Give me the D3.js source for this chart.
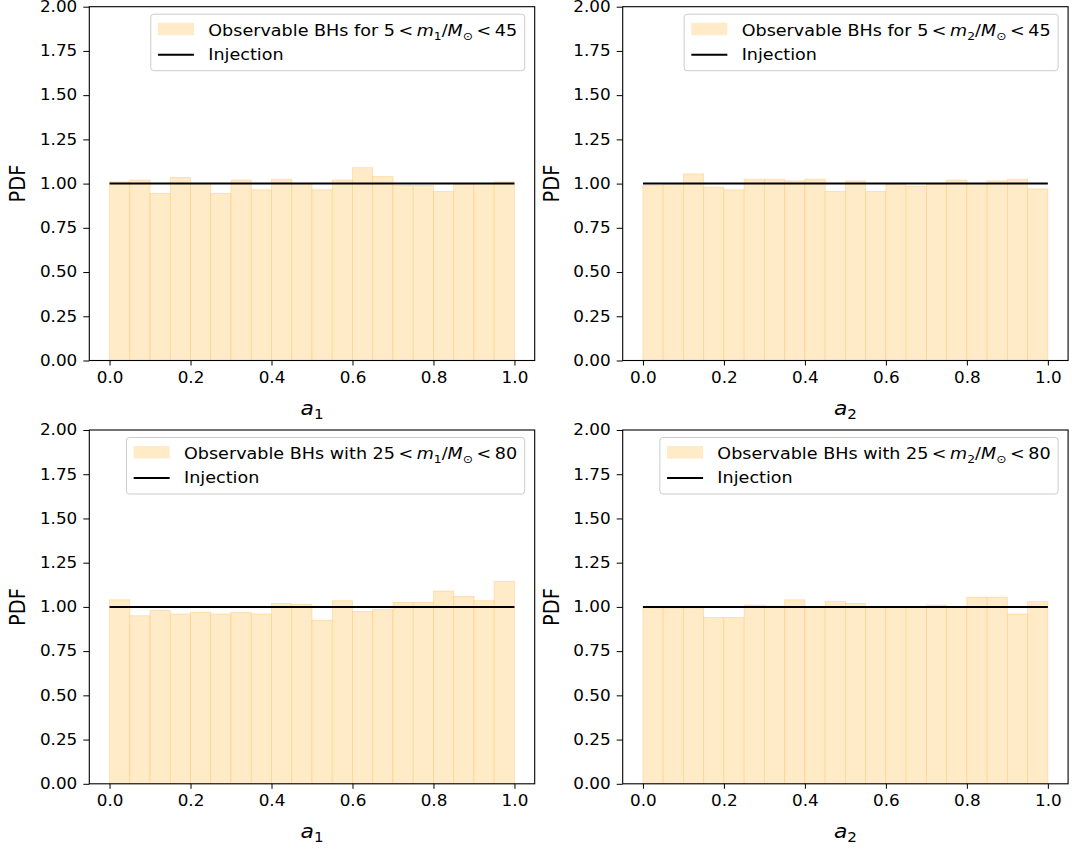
<!DOCTYPE html>
<html>
<head>
<meta charset="utf-8">
<script src="https://cdn.jsdelivr.net/npm/d3@7"></script>
<style>
  body { margin: 0; background: #fff; }
  svg { display: block; font-family: "DejaVu Sans", sans-serif; }
</style>
</head>
<body>
<svg id="chart" width="1075" height="850"></svg>
<script>
// ---- Data ----
const binEdges = [0.00,0.05,0.10,0.15,0.20,0.25,0.30,0.35,0.40,0.45,0.50,0.55,0.60,0.65,0.70,0.75,0.80,0.85,0.90,0.95,1.00];
const a1LowMass  = [1.01,1.02,0.945,1.035,1.00,0.945,1.02,0.965,1.025,1.00,0.965,1.02,1.09,1.04,0.99,0.99,0.955,0.995,1.00,1.01];
const a2LowMass  = [0.99,1.00,1.055,0.98,0.965,1.025,1.025,1.015,1.025,0.955,1.015,0.955,0.995,0.985,0.995,1.02,1.00,1.015,1.025,0.97];
const a1HighMass = [1.04,0.95,0.98,0.96,0.97,0.96,0.97,0.96,1.02,1.015,0.925,1.035,0.975,0.985,1.025,1.025,1.09,1.06,1.035,1.145];
const a2HighMass = [0.995,0.995,0.995,0.94,0.94,1.01,1.005,1.04,1.00,1.03,1.02,1.00,1.00,1.00,1.01,1.00,1.055,1.055,0.96,1.03];
const injectionX = [0, 1];
const injectionY = [1, 1];
const xTicks = [0.0,0.2,0.4,0.6,0.8,1.0];
const yTicks = [0.00,0.25,0.50,0.75,1.00,1.25,1.50,1.75,2.00];

const panels = [
  {left: 89.3,  top: 6.7, values: a1LowMass,  sub: "1", prep: "for", lo: "5",  hi: "45"},
  {left: 622.7, top: 6.7, values: a2LowMass,  sub: "2", prep: "for", lo: "5",  hi: "45"},
  {left: 89.3,  top: 430, values: a1HighMass, sub: "1", prep: "with", lo: "25", hi: "80"},
  {left: 622.7, top: 430, values: a2HighMass, sub: "2", prep: "with", lo: "25", hi: "80"}
];
const W = 445.4, H = 353.8;
const SX = 1.12;          // horizontal text stretch of the reference image
const tickFs = 15, legFs = 15.7;

const svg = d3.select("#chart");
svg.append("rect").attr("width",1075).attr("height",850).attr("fill","#fff");

panels.forEach(p => {
  const g = svg.append("g").attr("transform", `translate(${p.left},${p.top})`);
  const x = d3.scaleLinear().domain([-0.05, 1.05]).range([0, W]);
  const y = d3.scaleLinear().domain([0, 2]).range([H, 0]);

  const bins = p.values.map((v,i) => ({x0: binEdges[i], x1: binEdges[i+1], v}));
  g.selectAll("rect.bar").data(bins).enter().append("rect")
    .attr("class","bar")
    .attr("x", d => x(d.x0))
    .attr("width", d => x(d.x1) - x(d.x0))
    .attr("y", d => y(d.v))
    .attr("height", d => y(0) - y(d.v))
    .attr("fill", "#ffebc8")
    .attr("stroke", "rgba(255,190,90,0.45)")
    .attr("stroke-width", 0.8);

  const line = d3.line().x(d => x(d[0])).y(d => y(d[1]));
  g.append("path").datum(injectionX.map((xv,i)=>[xv, injectionY[i]]))
    .attr("d", line).attr("stroke","#000").attr("stroke-width",2).attr("fill","none");

  // axes
  const xAxis = d3.axisBottom(x).tickValues(xTicks).tickFormat(d3.format(".1f")).tickSizeOuter(0).tickSize(5).tickPadding(6.5);
  const yAxis = d3.axisLeft(y).tickValues(yTicks).tickFormat(d3.format(".2f")).tickSizeOuter(0).tickSize(6).tickPadding(6);
  const gx = g.append("g").attr("transform",`translate(0,${H})`).call(xAxis);
  const gy = g.append("g").call(yAxis);
  [gx, gy].forEach(a => {
    a.select(".domain").remove();
    a.selectAll("text").attr("font-size", tickFs).attr("fill","#000").attr("font-family","DejaVu Sans");
    a.selectAll("line").attr("stroke","#000").attr("stroke-width",1);
  });
  gx.selectAll("text").attr("transform", `scale(${SX},1)`);
  gy.selectAll("text").attr("x", -12 / SX).attr("transform", `scale(${SX},1)`);

  // spines
  g.append("rect").attr("x",0).attr("y",0).attr("width",W).attr("height",H)
    .attr("fill","none").attr("stroke","#000").attr("stroke-width",1.1);

  // y label
  g.append("text").attr("transform",`translate(${-64},${H/2}) rotate(-90) scale(1,${SX})`)
    .attr("text-anchor","middle").attr("font-size",19.5).text("PDF");
  // x label
  const xl = g.append("text").attr("transform", `translate(${x(0.5)},${H + 54}) scale(${SX},1)`)
    .attr("text-anchor","middle").attr("font-size",19.5);
  xl.append("tspan").attr("font-style","italic").text("a");
  xl.append("tspan").attr("font-size",13.5).attr("dy",4.5).text(p.sub);

  // legend
  const lg = g.append("g");
  const t1 = lg.append("text").attr("font-size", legFs);
  t1.append("tspan").text(`Observable BHs ${p.prep} ${p.lo}\u2009<\u2009`);
  t1.append("tspan").attr("font-style","italic").text("m");
  t1.append("tspan").attr("font-size",11).attr("dy",3.5).text(p.sub);
  t1.append("tspan").attr("dy",-3.5).text("/");
  t1.append("tspan").attr("font-style","italic").text("M");
  t1.append("tspan").attr("font-size",11).attr("dy",3.5).text("\u2299");
  t1.append("tspan").attr("dy",-3.5).text(`\u2009<\u2009${p.hi}`);
  const tw = t1.node().getComputedTextLength() * SX;
  const textX = 57.5;
  const boxW = textX + tw + 7.5;
  const boxH = 56.5;
  const bx = W - 10 - boxW, by = 7.5;
  lg.attr("transform", `translate(${bx},${by})`);
  lg.insert("rect", ":first-child").attr("x",0).attr("y",0).attr("width",boxW).attr("height",boxH)
    .attr("rx",3).attr("fill","rgba(255,255,255,0.8)").attr("stroke","#cccccc").attr("stroke-width",1);
  lg.append("rect").attr("x",7.2).attr("y",8.5).attr("width",36).attr("height",12.5).attr("fill","#ffebc8");
  t1.attr("transform", `translate(${textX},21.8) scale(${SX},1)`);
  lg.append("line").attr("x1",7.2).attr("x2",43.2).attr("y1",40.5).attr("y2",40.5).attr("stroke","#000").attr("stroke-width",2);
  lg.append("text").attr("transform", `translate(${textX},45.5) scale(${SX},1)`).attr("font-size",legFs).text("Injection");
});
</script>
</body>
</html>
